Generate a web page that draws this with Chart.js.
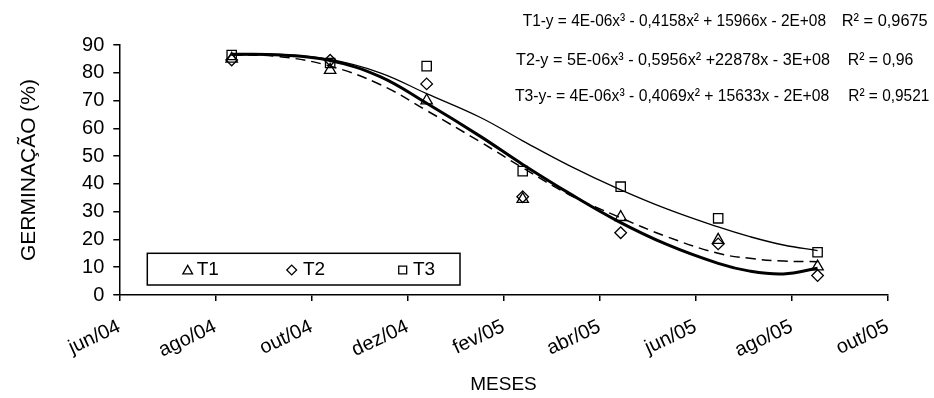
<!DOCTYPE html>
<html lang="pt">
<head>
<meta charset="utf-8">
<title>Germinação</title>
<script src="https://cdn.jsdelivr.net/npm/chart.js@4.4.0/dist/chart.umd.min.js"></script>
<style>
  html, body { margin: 0; padding: 0; background: #fff; }
  #wrap { position: relative; width: 934px; height: 398px; }
</style>
</head>
<body>
<div id="wrap"><canvas id="chart"></canvas></div>
<script>
// x axis in months counted from jun/04
const tickLabels = ['jun/04', 'ago/04', 'out/04', 'dez/04', 'fev/05', 'abr/05', 'jun/05', 'ago/05', 'out/05'];

// observed germination (%)
const sampleMonths = [2.34, 4.39, 6.40, 8.40, 10.44, 12.47, 14.54];
const t1Values = [85, 81, 70, 34.5, 28, 19.8, 10.2];
const t2Values = [84.6, 84.5, 76, 35.4, 22.4, 18.4, 7];
const t3Values = [86.4, 83.5, 82.4, 44.6, 39, 27.6, 15.4];

// trend curves
const curveMonths = [2.34, 3.35, 4.39, 5.43, 6.40, 7.51, 8.40, 9.38, 10.36, 11.40, 12.47, 13.13, 13.83, 14.54];
const t1Curve = [86.5, 85.8, 82.4, 75.8, 66.4, 55.2, 45.8, 36, 28.4, 21, 15, 13.2, 12.2, 12];
const t2Curve = [86.7, 86.4, 84.4, 78.6, 69, 57.2, 47, 36.5, 26.8, 18.2, 11.4, 8.6, 7.6, 9.6];
const t3Curve = [86.3, 86.6, 84.8, 80, 72.5, 64, 55.5, 46.5, 38.5, 31, 24.5, 21, 18, 16];

const equations = [
  ['T1-y = 4E-06x³ - 0,4158x² + 15966x - 2E+08', 'R² = 0,9675'],
  ['T2-y = 5E-06x³ - 0,5956x² +22878x - 3E+08', 'R² = 0,96'],
  ['T3-y- = 4E-06x³ - 0,4069x² + 15633x - 2E+08', 'R² = 0,9521']
];

const FONT = '"Liberation Sans", Arial, sans-serif';
Chart.defaults.font.family = FONT;
Chart.defaults.color = '#000';

const xy = (xs, ys) => xs.map((x, i) => ({ x: x, y: ys[i] }));

const pointSet = (label, ys, style, r) => ({
  label: label,
  data: xy(sampleMonths, ys),
  showLine: false,
  pointStyle: style,
  pointRadius: r,
  pointHoverRadius: r,
  pointBorderWidth: 1.3,
  pointBorderColor: '#000',
  pointBackgroundColor: 'rgba(0,0,0,0)'
});

const curveSet = (label, ys, width, dash) => ({
  label: label,
  data: xy(curveMonths, ys),
  borderColor: '#000',
  borderWidth: width,
  borderDash: dash,
  pointRadius: 0,
  tension: 0.4,
  fill: false
});

// equations in the top right corner
const eqLayout = [
  { y: 21, eq: [522.7, 826], r2: [841.7, 927.7] },
  { y: 60, eq: [516, 830], r2: [847.7, 913.3] },
  { y: 96, eq: [515, 829.3], r2: [848.3, 929.3] }
];

function fitText(ctx, text, x0, x1, y) {
  const w = ctx.measureText(text).width;
  ctx.save();
  ctx.translate(x0, y);
  ctx.scale((x1 - x0) / w, 1);
  ctx.fillText(text, 0, 0);
  ctx.restore();
}

const equationText = {
  id: 'equationText',
  afterDraw(chart) {
    const ctx = chart.ctx;
    ctx.save();
    ctx.font = '17px ' + FONT;
    ctx.fillStyle = '#000';
    ctx.textBaseline = 'middle';
    ctx.textAlign = 'left';
    equations.forEach((e, i) => {
      const l = eqLayout[i];
      fitText(ctx, e[0], l.eq[0], l.eq[1], l.y);
      fitText(ctx, e[1], l.r2[0], l.r2[1], l.y);
    });
    ctx.restore();
  }
};

function marker(ctx, style, x, y, r) {
  ctx.beginPath();
  if (style === 'triangle') {
    ctx.moveTo(x, y - r);
    ctx.lineTo(x + r * 0.866, y + r * 0.5);
    ctx.lineTo(x - r * 0.866, y + r * 0.5);
  } else if (style === 'rectRot') {
    ctx.moveTo(x - r, y);
    ctx.lineTo(x, y - r);
    ctx.lineTo(x + r, y);
    ctx.lineTo(x, y + r);
  } else {
    const s = r * Math.SQRT1_2;
    ctx.rect(x - s, y - s, 2 * s, 2 * s);
  }
  ctx.closePath();
  ctx.stroke();
}

// boxed legend inside the plot, markers only
const boxLegend = {
  id: 'boxLegend',
  afterDraw(chart) {
    const ctx = chart.ctx;
    const items = [
      { ds: 0, mx: 187.7, tx: 196.7, my: 271 },
      { ds: 1, mx: 291.7, tx: 303, my: 270 },
      { ds: 2, mx: 402.7, tx: 413, my: 270 }
    ];
    ctx.save();
    ctx.fillStyle = '#fff';
    ctx.strokeStyle = '#000';
    ctx.lineWidth = 1.5;
    ctx.fillRect(147.3, 253.3, 312.7, 31.7);
    ctx.strokeRect(147.3, 253.3, 312.7, 31.7);
    ctx.font = '19px ' + FONT;
    ctx.textBaseline = 'middle';
    ctx.lineWidth = 1.3;
    items.forEach(it => {
      const ds = chart.data.datasets[it.ds];
      marker(ctx, ds.pointStyle, it.mx, it.my, ds.pointRadius * 0.85);
      ctx.fillStyle = '#000';
      ctx.fillText(ds.label, it.tx, 270);
    });
    ctx.restore();
  }
};

new Chart(document.getElementById('chart'), {
  type: 'line',
  data: {
    datasets: [
      pointSet('T1', t1Values, 'triangle', 6.6),
      pointSet('T2', t2Values, 'rectRot', 5.8),
      pointSet('T3', t3Values, 'rect', 6.6),
      curveSet('T1 tendência', t1Curve, 1.5, [10, 6]),
      curveSet('T2 tendência', t2Curve, 3, []),
      curveSet('T3 tendência', t3Curve, 1.3, [])
    ]
  },
  options: {
    responsive: true,
    maintainAspectRatio: false,
    animation: false,
    layout: { padding: { left: 0, top: 45, right: 46.3, bottom: 0 } },
    plugins: { legend: { display: false }, tooltip: { enabled: false } },
    scales: {
      x: {
        type: 'linear',
        min: 0,
        max: 16,
        afterFit: s => { s.height = 103; },
        border: { display: true, color: '#000', width: 1.5 },
        grid: { drawOnChartArea: false, color: '#000', tickLength: 6, lineWidth: 1.5 },
        ticks: {
          stepSize: 2,
          autoSkip: false,
          minRotation: 25,
          maxRotation: 25,
          padding: 14,
          font: { size: 20 },
          callback: (v, i) => tickLabels[i]
        },
        title: { display: true, text: 'MESES', font: { size: 19 }, padding: { top: 0, bottom: 2 } }
      },
      y: {
        min: 0,
        max: 90,
        afterFit: s => { s.width = 119.3; },
        border: { display: true, color: '#000', width: 1.5 },
        grid: { drawOnChartArea: false, color: '#000', tickLength: 6, lineWidth: 1.5 },
        ticks: { stepSize: 10, padding: 9, font: { size: 20 } },
        title: { display: true, text: 'GERMINAÇÃO (%)', font: { size: 21 }, padding: { top: 17, bottom: 0 } }
      }
    }
  },
  plugins: [equationText, boxLegend]
});
</script>
</body>
</html>
